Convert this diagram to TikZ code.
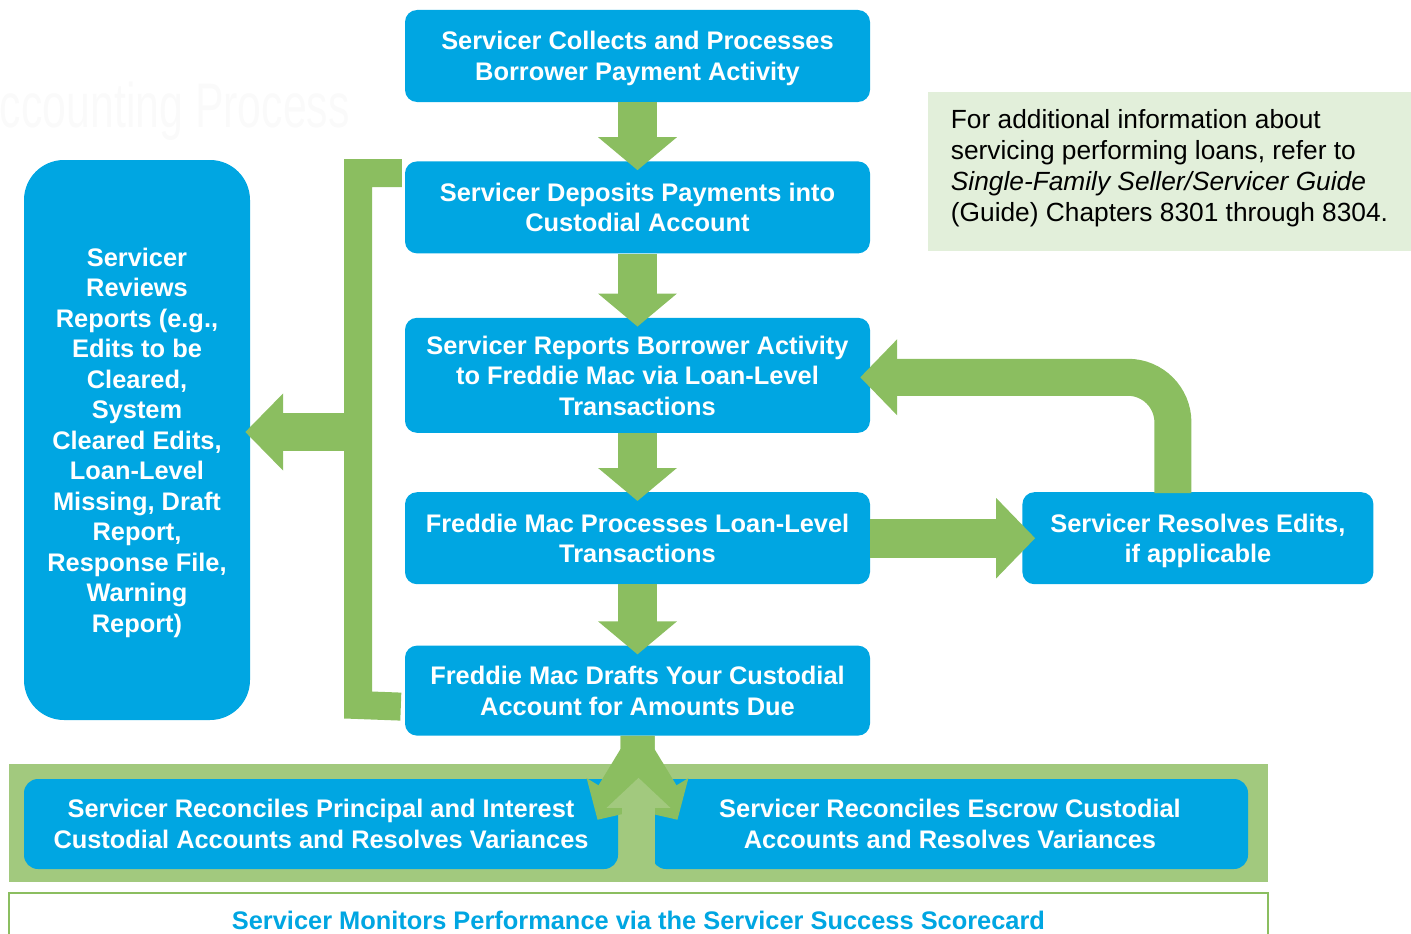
\documentclass[tikz,border=0pt]{standalone}
\usepackage{fontspec}
\setmainfont{Liberation Sans}
\usepackage{xcolor}
\usetikzlibrary{arrows.meta}
\usetikzlibrary{calc}
\usetikzlibrary{positioning}

\definecolor{fmblue}{RGB}{0,166,226}
\definecolor{fmgreen}{RGB}{139,190,96}
\definecolor{bandgreen}{RGB}{162,201,126}
\definecolor{notegreen}{RGB}{226,239,218}

\begin{document}
\begin{tikzpicture}[x=1pt,y=-1pt,line join=miter]
  \tikzstyle{proc}=[rectangle, rounded corners=12pt, fill=fmblue, text=white, align=center,
                    font=\bfseries\fontsize{25.4}{30.5}\selectfont, inner sep=0pt, text depth=0pt,
                    minimum width=465pt, minimum height=92pt]
  \tikzstyle{flow}=[draw=fmgreen, line width=39pt, -{Triangle[width=77pt,length=33pt]}]
  \tikzstyle{fork}=[draw=fmgreen, line width=34pt, -{Triangle[width=60pt,length=30pt]}]
  \useasboundingbox (0,0) rectangle (1411,934);

  % faint title behind everything
  \node[anchor=base east, text=black!2, font=\fontsize{63}{63}\selectfont, xscale=0.68, inner sep=0pt]
       (ghost) at (350,127) {ccounting Process};

  % main column
  \node[proc]                      (collect) at (637.5,56) {Servicer Collects and Processes\\Borrower Payment Activity};
  \node[proc]                      (deposit) [below=59pt of collect] {Servicer Deposits Payments into\\Custodial Account};
  \node[proc, minimum height=115pt] (report) [below=64pt of deposit] {Servicer Reports Borrower Activity\\to Freddie Mac via Loan-Level\\Transactions};
  \node[proc]                      (process) [below=59pt of report] {Freddie Mac Processes Loan-Level\\Transactions};
  \node[proc, minimum height=90pt] (draft)   [below=61pt of process] {Freddie Mac Drafts Your Custodial\\Account for Amounts Due};
  \node[proc, minimum width=351pt] (resolve) [right=152pt of process] {Servicer Resolves Edits,\\if applicable};
  \node[proc, rounded corners=40pt, minimum width=226pt, minimum height=560pt]
       (review) at (137,440) {Servicer\\Reviews\\Reports (e.g.,\\Edits to be\\Cleared,\\System\\Cleared Edits,\\Loan-Level\\Missing, Draft\\Report,\\Response File,\\Warning\\Report)};

  % note
  \node[fill=notegreen, minimum width=483pt, minimum height=159pt, inner sep=0pt, text depth=13pt,
        align=left, font=\fontsize{26.3}{31}\selectfont]
       (note) at (1169.5,171.5) {For additional information about\\servicing performing loans, refer to\\\textit{Single-Family Seller/Servicer Guide}\\(Guide) Chapters 8301 through 8304.};

  % reconciliation band
  \node[fill=bandgreen, minimum width=1259pt, minimum height=118pt, inner sep=0pt] (band) at (638.5,823) {};
  \node[proc, rounded corners=14pt, minimum width=594pt, minimum height=90pt] (pandi) at (321,824)
       {Servicer Reconciles Principal and Interest\\Custodial Accounts and Resolves Variances};
  \node[proc, rounded corners=14pt, minimum width=596pt, minimum height=90pt] (escrow) at (950,824)
       {Servicer Reconciles Escrow Custodial\\Accounts and Resolves Variances};

  % scorecard bar
  \node[draw=fmgreen, line width=2pt, fill=white, text=fmblue, minimum width=1259pt, minimum height=54pt,
        anchor=north, font=\bfseries\fontsize{25.4}{30}\selectfont]
       (score) at (638.5,892) {Servicer Monitors Performance via the Servicer Success Scorecard};

  % flow arrows
  \draw[flow] (collect.south) -- ($(deposit.north)+(0,9)$);
  \draw[flow] (deposit.south) -- ($(report.north)+(0,9)$);
  \draw[flow] (report.south)  -- ($(process.north)+(0,9)$);
  \draw[flow] (process.south) -- ($(draft.north)+(0,9)$);
  \draw[flow, -{Triangle[width=78pt,length=39pt]}] (process.east) -- ($(resolve.west)+(13,0)$);
  \draw[flow, line width=37pt, rounded corners=45pt, -{Triangle[width=74pt,length=37pt]}]
       ($(resolve.north)+(-25,1)$) |- ($(report.east)+(-10,2)$);

  % bracket and report arrow
  \draw[fmgreen, line width=28pt] ($(deposit.north west)+(-3,12)$) -| (358,705) -- ($(draft.west)+(-4,16)$);
  \draw[flow, line width=38pt, -{Triangle[width=75pt,length=38pt]}] (358,432) -- ($(review.east)+(-5,-8)$);

  % fork into reconciliation
  \draw[fork] (draft.south) -- ++(0,18) -- ++(-40,66);
  \draw[fork] (draft.south) -- ++(0,18) -- ++(40,66);
  \draw[draw=bandgreen, line width=33pt, -{Triangle[width=62pt,length=30pt]}] (band.south) -- ($(band.north)+(0,14)$);
\end{tikzpicture}
\end{document}
